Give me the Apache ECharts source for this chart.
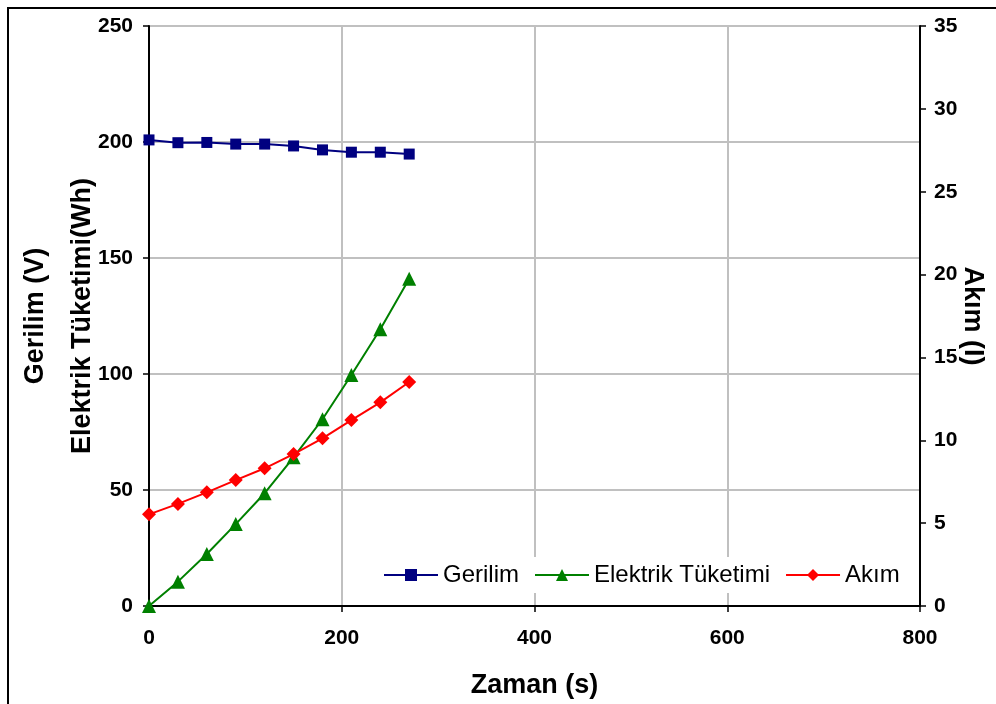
<!DOCTYPE html>
<html>
<head>
<meta charset="utf-8">
<script src="https://cdn.jsdelivr.net/npm/echarts@6/dist/echarts.min.js"></script>
<style>
  html, body { margin: 0; padding: 0; background: #fff; }
  #chart { width: 996px; height: 704px; }
</style>
</head>
<body>
<div id="chart"></div>
<script>
// Time in seconds
var zaman = [0, 30, 60, 90, 120, 150, 180, 210, 240, 270];
// Voltage (V)
var gerilim = [200.9, 199.7, 199.8, 199.1, 199.1, 198.3, 196.6, 195.6, 195.6, 194.8];
// Energy consumption (Wh)
var tuketim = [0, 10.5, 22.4, 35.3, 48.6, 64.1, 80.5, 99.6, 119.3, 141.1];
// Current (I), right axis
var akim = [5.53, 6.16, 6.86, 7.60, 8.31, 9.17, 10.12, 11.22, 12.29, 13.52];

var xTicks = [0, 200, 400, 600, 800];
var leftTicks = [0, 50, 100, 150, 200, 250];
var rightTicks = [0, 5, 10, 15, 20, 25, 30, 35];

function pairs(xs, ys) {
  return xs.map(function (x, i) { return [x, ys[i]]; });
}

var FONT = 'Liberation Sans, Arial, sans-serif';
var tickLabel = { color: '#000', fontFamily: FONT, fontWeight: 'bold', fontSize: 21 };

var chart = echarts.init(document.getElementById('chart'));
chart.setOption({
  animation: false,
  backgroundColor: '#fff',
  grid: { left: 149, right: 76, top: 26, bottom: 98, containLabel: false, outerBoundsMode: 'none' },
  graphic: [{
    type: 'rect',
    shape: { x: 8, y: 8, width: 1000, height: 800 },
    style: { fill: 'none', stroke: '#000', lineWidth: 2 },
    z: 100
  }],
  legend: {
    left: 377, top: 557,
    backgroundColor: '#fff',
    padding: [6, 6, 6, 6],
    itemWidth: 54, itemHeight: 15, itemGap: 15,
    textStyle: { color: '#000', fontFamily: FONT, fontSize: 24 },
    data: ['Gerilim', 'Elektrik Tüketimi', 'Akım']
  },
  xAxis: {
    type: 'value', min: xTicks[0], max: xTicks[xTicks.length - 1], interval: 200,
    name: 'Zaman (s)', nameLocation: 'middle', nameGap: 66, nameMoveOverlap: false,
    nameTextStyle: { color: '#000', fontFamily: FONT, fontWeight: 'bold', fontSize: 27 },
    axisLine: { lineStyle: { color: '#000', width: 2 } },
    axisTick: { show: true, length: 6, lineStyle: { color: '#000', width: 1.5 } },
    axisLabel: Object.assign({ margin: 22 }, tickLabel),
    splitLine: { show: true, lineStyle: { color: '#c0c0c0', width: 2 } }
  },
  yAxis: [{
    type: 'value', min: leftTicks[0], max: leftTicks[leftTicks.length - 1], interval: 50,
    position: 'left',
    name: 'Gerilim (V)\nElektrik Tüketimi(Wh)', nameLocation: 'middle', nameGap: 43, nameRotate: 90,
    nameMoveOverlap: false,
    nameTextStyle: { color: '#000', fontFamily: FONT, fontWeight: 'bold', fontSize: 27, lineHeight: 47 },
    axisLine: { show: true, onZero: false, lineStyle: { color: '#000', width: 2 } },
    axisTick: { show: true, length: 6, lineStyle: { color: '#000', width: 1.5 } },
    axisLabel: Object.assign({ margin: 16 }, tickLabel),
    splitLine: { show: true, lineStyle: { color: '#c0c0c0', width: 2 } }
  }, {
    type: 'value', min: rightTicks[0], max: rightTicks[rightTicks.length - 1], interval: 5,
    position: 'right',
    name: 'Akım (I)', nameLocation: 'middle', nameGap: 39, nameRotate: -90,
    nameMoveOverlap: false,
    nameTextStyle: { color: '#000', fontFamily: FONT, fontWeight: 'bold', fontSize: 27 },
    axisLine: { show: true, onZero: false, lineStyle: { color: '#000', width: 2 } },
    axisTick: { show: true, length: 6, lineStyle: { color: '#000', width: 1.5 } },
    axisLabel: Object.assign({ margin: 14 }, tickLabel),
    splitLine: { show: false }
  }],
  series: [{
    name: 'Gerilim', type: 'line', yAxisIndex: 0,
    data: pairs(zaman, gerilim),
    symbol: 'rect', symbolSize: 11,
    itemStyle: { color: '#000080' },
    lineStyle: { color: '#000080', width: 2 }
  }, {
    name: 'Elektrik Tüketimi', type: 'line', yAxisIndex: 0,
    data: pairs(zaman, tuketim),
    symbol: 'triangle', symbolSize: 14,
    itemStyle: { color: '#008000' },
    lineStyle: { color: '#008000', width: 2 }
  }, {
    name: 'Akım', type: 'line', yAxisIndex: 1,
    data: pairs(zaman, akim),
    symbol: 'diamond', symbolSize: 14,
    itemStyle: { color: '#ff0000' },
    lineStyle: { color: '#ff0000', width: 2 }
  }]
});
</script>
</body>
</html>
